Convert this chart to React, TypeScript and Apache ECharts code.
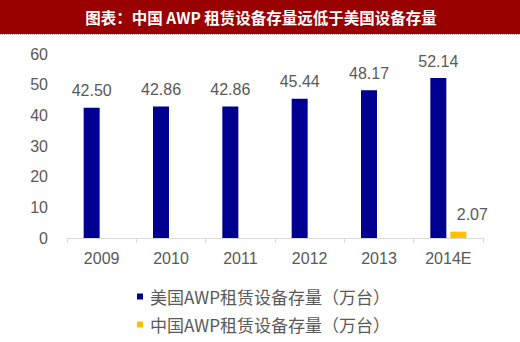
import React, { useEffect, useRef } from "react";
import * as echarts from "echarts";

const categories = ["2009", "2010", "2011", "2012", "2013", "2014E"];
const usStock = [42.5, 42.86, 42.86, 45.44, 48.17, 52.14];
const cnStock = [null, null, null, null, null, 2.07];
const seriesNames = ["美国AWP租赁设备存量（万台）", "中国AWP租赁设备存量（万台）"];
const titleText = "图表：中国 AWP 租赁设备存量远低于美国设备存量";

export default function App() {
  const ref = useRef<HTMLDivElement>(null);
  useEffect(() => {
    const chart = echarts.init(ref.current!, null, { renderer: "svg" });
    const font = "'Liberation Sans', Arial, 'Noto Sans CJK SC', sans-serif";
    const legendBase = {
      orient: "horizontal",
      left: 137,
      padding: 0,
      itemWidth: 6,
      itemHeight: 6,
      icon: "rect",
      textStyle: { fontSize: 17, color: "#595959", fontFamily: "'Noto Sans CJK SC', sans-serif", padding: [0, 0, 0, 2] },
    };
    chart.setOption({
      animation: false,
      backgroundColor: "#ffffff",
      textStyle: { fontFamily: font },
      graphic: [
        { type: "rect", left: 0, top: 0, shape: { width: 520, height: 34 }, style: { fill: "#990000" } },
        { type: "line", shape: { x1: 0, y1: 34.5, x2: 520, y2: 34.5 }, style: { stroke: "#b8aeb8", lineWidth: 1, lineDash: [1, 1] } },
        {
          type: "text",
          x: 261,
          y: 17,
          style: {
            text: titleText,
            fill: "#ffffff",
            font: "bold 15.5px 'Noto Sans CJK SC', sans-serif",
            textAlign: "center",
            textVerticalAlign: "middle",
          },
        },
      ],
      grid: { left: 67, right: 37, top: 54, bottom: 104 },
      legend: [
        { ...legendBase, top: 288, data: [seriesNames[0]] },
        { ...legendBase, top: 316, data: [seriesNames[1]] },
      ],
      xAxis: {
        type: "category",
        data: categories,
        axisLine: { lineStyle: { color: "#d9d9d9" } },
        axisTick: { show: true, length: 5, lineStyle: { color: "#d9d9d9" } },
        axisLabel: { fontSize: 16, color: "#595959", margin: 12 },
      },
      yAxis: {
        type: "value",
        min: 0,
        max: 60,
        interval: 10,
        axisLine: { show: false },
        axisTick: { show: false },
        splitLine: { show: false },
        axisLabel: { fontSize: 16, color: "#595959", margin: 19 },
      },
      series: [
        {
          name: seriesNames[0],
          type: "bar",
          data: usStock,
          barWidth: 16,
          barGap: "25%",
          itemStyle: { color: "#000090" },
          label: {
            show: true,
            position: "top",
            distance: 9,
            fontSize: 16,
            color: "#595959",
            formatter: (p: any) => p.value.toFixed(2),
          },
        },
        {
          name: seriesNames[1],
          type: "bar",
          data: cnStock,
          barWidth: 16,
          itemStyle: { color: "#FFC000" },
          label: {
            show: true,
            position: "top",
            distance: 9,
            offset: [14, 0],
            fontSize: 16,
            color: "#595959",
            formatter: (p: any) => (p.value == null ? "" : p.value.toFixed(2)),
          },
        },
      ],
    });
    return () => chart.dispose();
  }, []);
  return (
    <div
      ref={ref}
      style={{ position: "fixed", left: 0, top: 0, width: 520, height: 342 }}
    />
  );
}
